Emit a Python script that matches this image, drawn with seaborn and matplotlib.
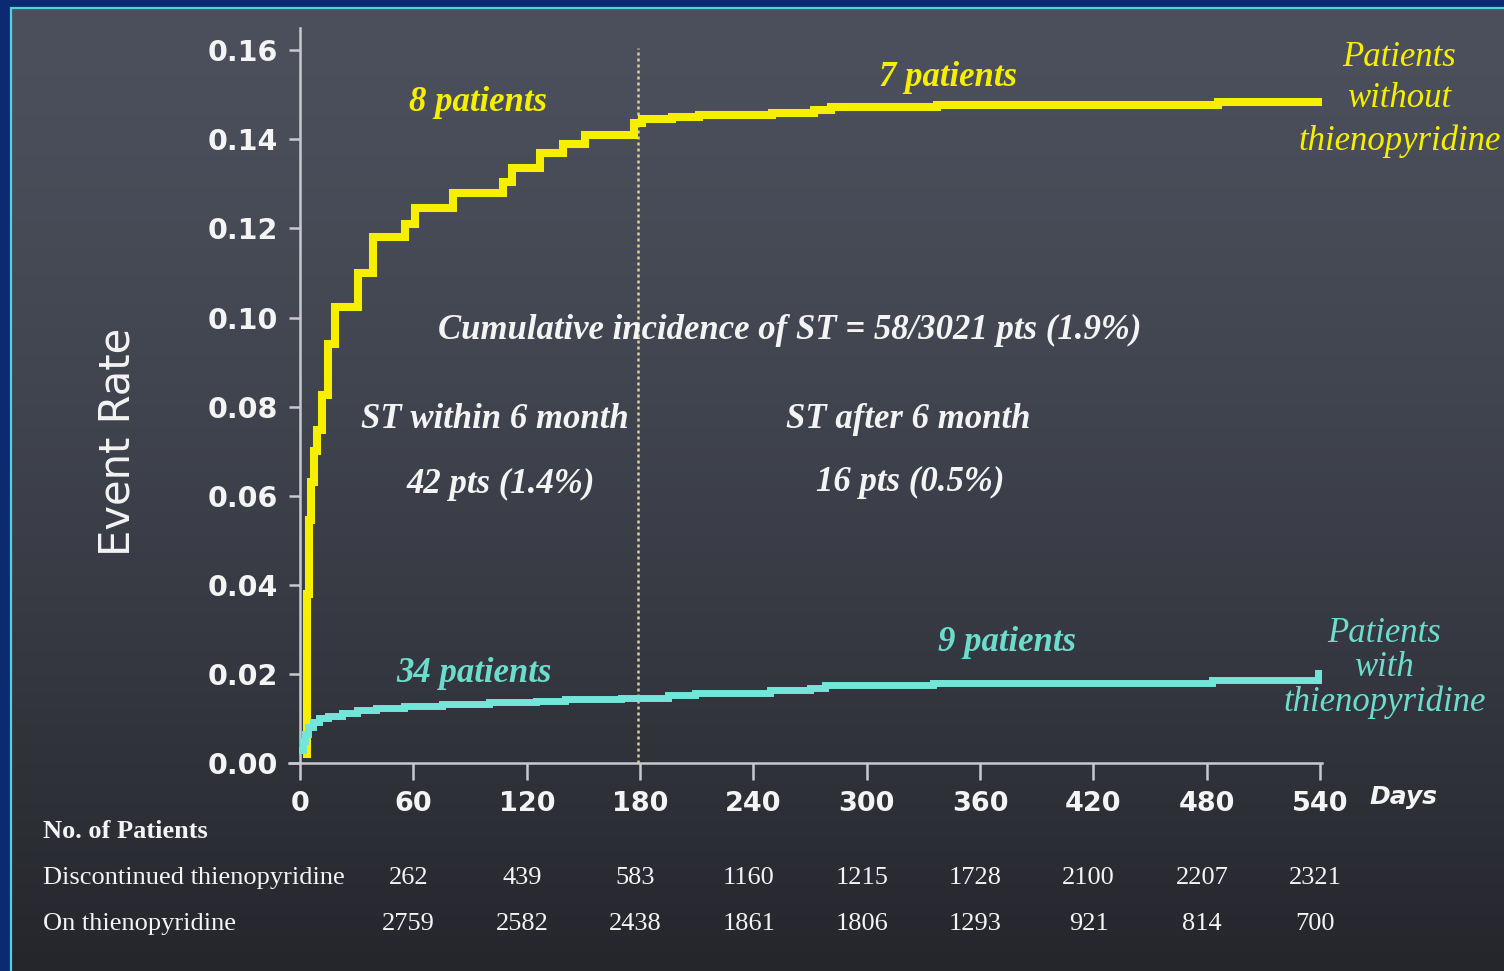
import numpy as np
import pandas as pd
import matplotlib
matplotlib.use("Agg")
import matplotlib.pyplot as plt
import matplotlib.transforms as mtransforms
from matplotlib.patches import Rectangle
import seaborn as sns

# ---------------- data ----------------
yellow_days = [3.5, 3.8, 4.8, 5.8, 7.4, 9, 11.6, 14.8, 18.5, 30.5, 38.5, 55.5, 61, 81,
               107.5, 112, 127, 139, 151, 177, 181, 197, 211, 250, 272, 281, 337, 486, 540]
yellow_rate = [0.002, 0.038, 0.0545, 0.063, 0.070, 0.0747, 0.0826, 0.094, 0.1023, 0.110,
               0.118, 0.121, 0.1245, 0.128, 0.1305, 0.1335, 0.137, 0.139, 0.141, 0.1436,
               0.1445, 0.1450, 0.1454, 0.1459, 0.1465, 0.1472, 0.1477, 0.1483, 0.1483]

cyan_days = [1, 1.5, 2.5, 4, 7, 10, 15, 22, 30, 40, 55, 75, 100, 125, 140, 170, 195, 209,
             249, 270, 278, 335, 483, 539, 540]
cyan_rate = [0.003, 0.005, 0.0065, 0.008, 0.0092, 0.0100, 0.0106, 0.0113, 0.0119, 0.0124,
             0.0128, 0.0132, 0.0136, 0.0140, 0.0144, 0.0146, 0.0152, 0.0158, 0.0163, 0.0169,
             0.0174, 0.0179, 0.0187, 0.0201, 0.0201]

x_ticks = [0, 60, 120, 180, 240, 300, 360, 420, 480, 540]
y_ticks = [0.00, 0.02, 0.04, 0.06, 0.08, 0.10, 0.12, 0.14, 0.16]
y_tick_labels = ["0.00", "0.02", "0.04", "0.06", "0.08", "0.10", "0.12", "0.14", "0.16"]

risk_days = [60, 120, 180, 240, 300, 360, 420, 480, 540]
discontinued_n = [262, 439, 583, 1160, 1215, 1728, 2100, 2207, 2321]
on_n = [2759, 2582, 2438, 1861, 1806, 1293, 921, 814, 700]

cutoff_day = 179

# ---------------- style ----------------
YELLOW = "#f6f000"
CYAN = "#72e6d9"
CYAN_TXT = "#6cdccd"
WHITE = "#f4f4f4"
AXIS = "#c9c9cf"

fig = plt.figure(figsize=(15.04, 9.71), dpi=100)
fig.patch.set_facecolor("#0b2a72")

# chalkboard background
bg = fig.add_axes([12 / 1504, 0, 1 - 12 / 1504, 1 - 9 / 971])
grad = np.linspace(0, 1, 256).reshape(-1, 1) ** 1.4
top = np.array([0x4b, 0x50, 0x5c]) / 255
bot = np.array([0x25, 0x26, 0x2c]) / 255
img = top[None, None, :] * (1 - grad[..., None]) + bot[None, None, :] * grad[..., None]
bg.imshow(img, aspect="auto", extent=[0, 1, 0, 1], origin="upper")
bg.set_axis_off()
fig.patches.append(Rectangle((11 / 1504, -0.01), 1.0, 1 - 8 / 971 + 0.01,
                             transform=fig.transFigure, fill=False,
                             edgecolor="#4fd2e0", linewidth=1.6, zorder=5))

ax = fig.add_axes([0.192, 0.2142, 0.879 - 0.192, 0.9712 - 0.2142])
ax.patch.set_alpha(0)

sns.lineplot(x=yellow_days, y=yellow_rate, ax=ax, color=YELLOW, linewidth=5.8,
             drawstyle="steps-post", solid_joinstyle="miter", zorder=4)
sns.lineplot(x=cyan_days, y=cyan_rate, ax=ax, color=CYAN, linewidth=5.0,
             drawstyle="steps-post", solid_joinstyle="miter", zorder=4)

ax.axvline(cutoff_day, ymin=0, ymax=0.1604 / 0.165, color="#d8d09a",
           linestyle=(0, (1.2, 1.2)), linewidth=1.8, zorder=3)

ax.set_xlim(-6, 541)
ax.set_ylim(0, 0.165)
for s in ["top", "right"]:
    ax.spines[s].set_visible(False)
ax.spines["left"].set_position(("data", 0))
ax.spines["left"].set_color(AXIS)
ax.spines["bottom"].set_color(AXIS)
ax.spines["left"].set_linewidth(1.8)
ax.spines["bottom"].set_linewidth(1.8)

ax.set_xticks(x_ticks)
ax.set_xticklabels([str(t) for t in x_ticks])
ax.set_yticks(y_ticks)
ax.set_yticklabels(y_tick_labels)
ax.tick_params(axis="x", direction="out", length=12, width=1.8, color=AXIS, pad=8,
               labelsize=19.5, labelcolor=WHITE)
ax.tick_params(axis="y", direction="out", length=8, width=1.8, color=AXIS, pad=8,
               labelsize=20.5, labelcolor=WHITE)
for lab in ax.get_xticklabels() + ax.get_yticklabels():
    lab.set_fontweight("bold")
    lab.set_family("DejaVu Sans")
ax.set_xlabel("")
ax.set_ylabel("")

fig.text(117 / 1504, 1 - 442 / 971, "Event Rate", rotation=90, color=WHITE,
         fontsize=30, ha="center", va="center", family="DejaVu Sans")
ax.text(584, -0.0076, "Days", color=WHITE, fontsize=18, fontweight="bold",
        fontstyle="italic", ha="center", va="center", family="DejaVu Sans", clip_on=False)

serif = "Liberation Serif"
def note(x, y, s, color, size, weight="bold", style="italic", ls=1.0):
    ax.text(x, y, s, color=color, fontsize=size, fontweight=weight, fontstyle=style,
            ha="center", va="center", family=serif, clip_on=False, linespacing=ls)

note(94, 0.1482, "8 patients", YELLOW, 25)
note(343, 0.1538, "7 patients", YELLOW, 25)
note(582, 0.1490, "Patients\nwithout\nthienopyridine", YELLOW, 25, weight="normal", ls=1.34)
note(259, 0.0970, "Cumulative incidence of ST = 58/3021 pts (1.9%)", WHITE, 25)
note(103, 0.0772, "ST within 6 month", WHITE, 25)
note(106, 0.0626, "42 pts (1.4%)", WHITE, 25)
note(322, 0.0772, "ST after 6 month", WHITE, 25)
note(323, 0.0630, "16 pts (0.5%)", WHITE, 25)
note(92, 0.0202, "34 patients", CYAN_TXT, 25)
note(374, 0.0270, "9 patients", CYAN_TXT, 25)
note(574, 0.0214, "Patients\nwith\nthienopyridine", CYAN_TXT, 25, weight="normal", ls=1.05)

# number-at-risk table
fig.text(43 / 1504, 1 - 831 / 971, "No. of Patients", color=WHITE, fontsize=19,
         fontweight="bold", family=serif, ha="left", va="center")
fig.text(43 / 1504, 1 - 878 / 971, "Discontinued thienopyridine", color=WHITE,
         fontsize=19, family=serif, ha="left", va="center")
fig.text(43 / 1504, 1 - 924 / 971, "On thienopyridine", color=WHITE,
         fontsize=19, family=serif, ha="left", va="center")
trans = mtransforms.blended_transform_factory(ax.transData, fig.transFigure)
for d, a, b in zip(risk_days, discontinued_n, on_n):
    ax.text(d - 2.5, 1 - 878 / 971, str(a), transform=trans, color=WHITE, fontsize=19,
            family=serif, ha="center", va="center", clip_on=False)
    ax.text(d - 2.5, 1 - 924 / 971, str(b), transform=trans, color=WHITE, fontsize=19,
            family=serif, ha="center", va="center", clip_on=False)

fig.savefig("out.png", dpi=100, facecolor=fig.get_facecolor())
